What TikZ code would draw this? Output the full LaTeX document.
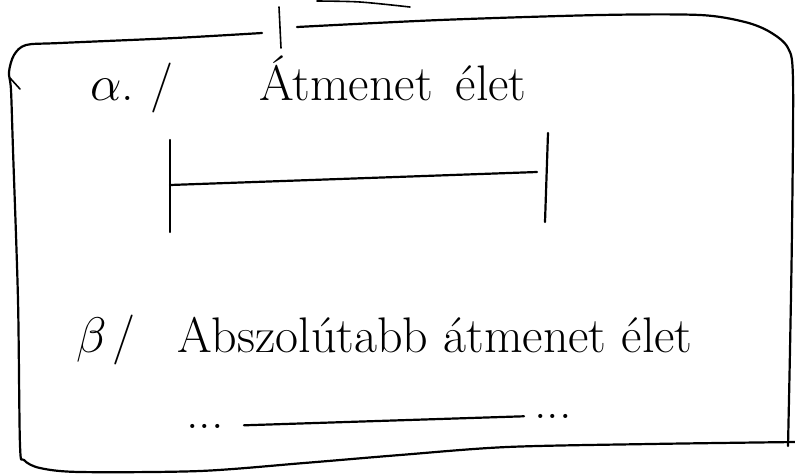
\RequirePackage{fix-cm}
\documentclass[tikz,border=0pt]{standalone}
\usepackage{amsmath}
\usepackage{tikz}
\usetikzlibrary{calc}

\tikzset{
  sketch/.style={line width=2.2pt, line cap=round, line join=round},
  hand/.style={font=\fontsize{50}{56}\selectfont, inner sep=0pt, anchor=base west},
}

\begin{document}
\begin{tikzpicture}[x=1pt, y=-1pt]
    \useasboundingbox (0,0) rectangle (795,475);
    % frame, drawn by hand
    \draw[sketch] plot[smooth, tension=0.5] coordinates {(297,27) (440,20) (600,15) (700,15) (745,22) (770,32) (788,48) (793,80) (792,230) (790,350) (788,446)};
    \draw[sketch] plot[smooth, tension=0.5] coordinates {(795,442) (650,444) (507,447) (400,455) (304,463) (200,471) (80,472) (40,468) (24,460) (20,445) (18,300) (13,150) (11,90) (9,72) (14,55) (26,45) (60,43) (175,38) (262,33)};
    \draw[sketch, line width=1.6pt] plot[smooth] coordinates {(317,1) (360,2) (410,7)};
    \draw[sketch, line width=1.6pt] (279,7) -- (281,48);
    \draw[sketch, line width=1.6pt] (10,78) -- (20,89);

    % a, first line
    \node[hand] (alpha) at (90,100) {$\alpha$.\hspace{16pt}/};
    \node[hand] (title1) at (259,100) {Átmenet\hspace{8pt} élet};

    % the bar under it
    \coordinate (barL) at (170,185);
    \coordinate (barR) at (537,172);
    \coordinate (tickLa) at (170,140);
    \coordinate (tickLb) at (170,232);
    \coordinate (tickRa) at (548,133);
    \coordinate (tickRb) at (545,222);
    \draw[sketch] (tickLa) -- (tickLb);
    \draw[sketch] (tickRa) -- (tickRb);
    \draw[sketch] (barL) -- (barR);

    % b, second line
    \node[hand] (beta) at (76,352) {$\beta$\hspace{6pt}/};
    \node[hand] (title2) at (177,352) {Abszolútabb átmenet élet};

    \node[hand, anchor=base] (dotsL) at (205,428) {...};
    \node[hand, anchor=base] (dotsR) at (553,418) {...};
    \draw[sketch, shorten <=20pt, shorten >=10pt] (dotsL.east) -- (dotsR.west);
\end{tikzpicture}
\end{document}
